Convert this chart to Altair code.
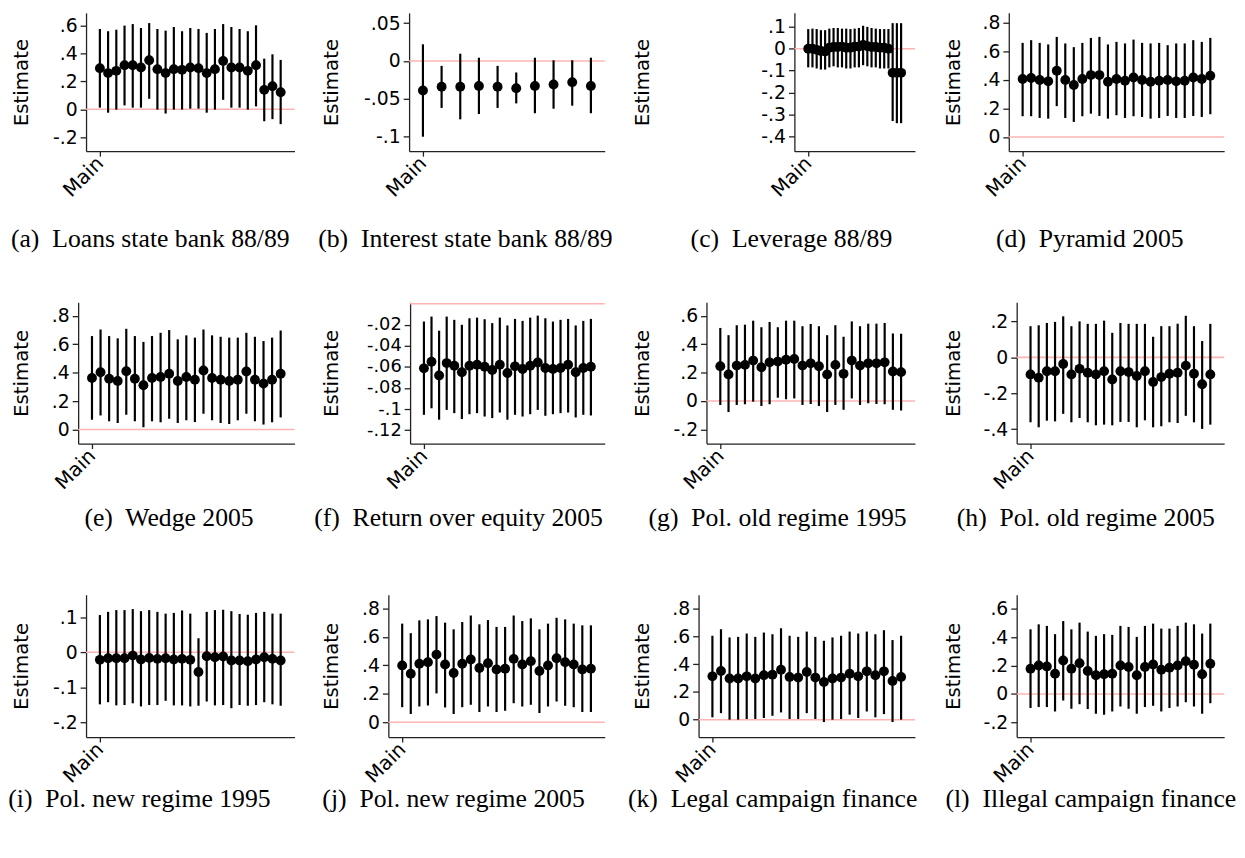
import altair as alt
import pandas as pd

# ---------------- data ----------------
NB = "\u00a0 "
captions = ["(a)" + NB + "Loans state bank 88/89", "(b)" + NB + "Interest state bank 88/89", "(c)" + NB + "Leverage 88/89",
            "(d)" + NB + "Pyramid 2005", "(e)" + NB + "Wedge 2005", "(f)" + NB + "Return over equity 2005",
            "(g)" + NB + "Pol. old regime 1995", "(h)" + NB + "Pol. old regime 2005", "(i)" + NB + "Pol. new regime 1995",
            "(j)" + NB + "Pol. new regime 2005", "(k)" + NB + "Legal campaign finance", "(l)" + NB + "Illegal campaign finance"]

a_est = [.294, .259, .275, .315, .315, .299, .351, .287, .259, .287, .282, .299, .294, .259, .287, .346, .299, .299, .275, .315, .139, .165, .122]
a_lo = [.012, -.024, -.002, .028, .012, .012, .075, -.002, -.03, -.002, -.002, .005, .005, -.024, -.002, .068, .012, .012, -.002, .021, -.085, -.07, -.106]
a_hi = [.574, .558, .569, .598, .609, .581, .616, .574, .562, .588, .558, .581, .574, .546, .574, .609, .588, .574, .558, .6, .362, .393, .353]

b_est = [-.039, -.034, -.034, -.033, -.034, -.036, -.033, -.031, -.028, -.033]
b_lo = [-.1, -.062, -.077, -.070, -.062, -.056, -.069, -.063, -.059, -.069]
b_hi = [.022, -.0065, .0096, .0043, -.0065, -.0152, .0043, .0009, .0009, .0043]

c_est = [0, 0, -.005, -.01, -.012, .005, .008, .008, .01, .005, .005, .01, .01, .018, .012, .008, .008, .005, .005, 0, -.11, -.11, -.11]
c_lo = [-.085, -.085, -.09, -.095, -.095, -.085, -.08, -.085, -.085, -.09, -.09, -.085, -.085, -.075, -.08, -.085, -.085, -.09, -.09, -.09, -.33, -.34, -.34]
c_hi = [.09, .092, .09, .085, .085, .092, .095, .095, .092, .092, .09, .092, .095, .105, .1, .095, .092, .09, .09, .09, .117, .117, .117]

d_est = [.407, .414, .4, .391, .465, .4, .365, .407, .435, .435, .388, .407, .395, .418, .4, .388, .395, .4, .391, .395, .418, .407, .43]
d_lo = [.146, .146, .134, .129, .217, .134, .106, .146, .164, .148, .129, .153, .134, .146, .141, .129, .134, .148, .134, .134, .148, .141, .16]
d_hi = [.661, .68, .661, .65, .703, .657, .631, .661, .696, .703, .65, .668, .657, .684, .661, .657, .661, .645, .657, .657, .68, .668, .696]

e_est = [.362, .403, .357, .341, .41, .357, .311, .362, .369, .392, .341, .369, .35, .415, .362, .35, .341, .35, .408, .35, .323, .35, .392]
e_lo = [.069, .099, .058, .046, .104, .058, .016, .058, .051, .076, .046, .065, .053, .111, .065, .046, .039, .065, .111, .058, .035, .051, .085]
e_hi = [.657, .703, .657, .641, .708, .657, .616, .657, .68, .699, .634, .662, .646, .703, .662, .652, .646, .646, .68, .652, .622, .646, .696]

f_est = [-.0613, -.0551, -.0681, -.0563, -.0588, -.065, -.0588, -.0579, -.0598, -.0629, -.0579, -.0657, -.0594, -.0619, -.0588, -.0557, -.061, -.0619, -.061, -.0579, -.065, -.061, -.0598]
f_lo = [-.1054, -.0992, -.110, -.1007, -.1038, -.1094, -.1048, -.1038, -.107, -.1085, -.1032, -.110, -.1054, -.107, -.1048, -.1007, -.1063, -.1048, -.1038, -.1032, -.1079, -.1054, -.106]
f_hi = [-.0169, -.0122, -.0256, -.0122, -.0153, -.02, -.0138, -.0132, -.0147, -.0184, -.0132, -.0206, -.0144, -.0163, -.0132, -.0113, -.0138, -.0169, -.0153, -.0144, -.0206, -.0163, -.0144]

g_est = [.244, .187, .249, .254, .284, .237, .272, .277, .29, .295, .249, .265, .244, .187, .254, .191, .284, .249, .265, .265, .272, .207, .203]
g_lo = [-.028, -.078, -.028, -.023, -.005, -.035, -.023, .023, .012, .018, -.028, -.021, -.035, -.078, -.028, -.062, .018, -.028, -.016, -.021, -.023, -.062, -.067]
g_hi = [.514, .463, .533, .537, .565, .519, .556, .519, .565, .565, .526, .542, .526, .463, .533, .452, .56, .526, .544, .544, .549, .475, .473]

h_est = [-.095, -.113, -.077, -.077, -.037, -.095, -.064, -.086, -.095, -.077, -.123, -.077, -.082, -.104, -.077, -.137, -.11, -.091, -.086, -.046, -.091, -.15, -.095]
h_lo = [-.362, -.39, -.353, -.357, -.315, -.362, -.338, -.362, -.379, -.375, -.379, -.36, -.36, -.39, -.351, -.39, -.384, -.362, -.366, -.326, -.362, -.399, -.375]
h_hi = [.174, .179, .192, .198, .229, .174, .201, .187, .187, .205, .137, .192, .187, .187, .187, .115, .174, .174, .188, .232, .174, .091, .187]

i_est = [-.0215, -.0168, -.0168, -.0168, -.0093, -.0206, -.0159, -.0187, -.0168, -.0206, -.0187, -.0215, -.0561, -.0112, -.014, -.0121, -.0234, -.0234, -.0252, -.0206, -.014, -.0187, -.0234]
i_lo = [-.148, -.142, -.151, -.15, -.145, -.154, -.15, -.15, -.138, -.151, -.151, -.154, -.152, -.14, -.151, -.15, -.159, -.15, -.152, -.15, -.142, -.148, -.152]
i_hi = [.106, .115, .12, .12, .123, .117, .12, .115, .11, .112, .119, .11, .04, .115, .12, .121, .117, .109, .107, .112, .115, .11, .11]

j_est = [.4, .342, .412, .423, .476, .407, .347, .412, .442, .382, .416, .372, .377, .446, .407, .43, .361, .4, .451, .423, .407, .372, .377]
j_lo = [.106, .058, .111, .118, .203, .104, .058, .106, .123, .072, .111, .072, .081, .134, .111, .123, .065, .111, .146, .116, .106, .072, .072]
j_hi = [.694, .627, .717, .724, .747, .701, .654, .705, .751, .689, .719, .671, .671, .751, .712, .731, .654, .694, .735, .724, .694, .682, .682]

k_est = [.312, .35, .296, .296, .312, .296, .32, .324, .36, .308, .303, .343, .303, .272, .296, .303, .331, .312, .348, .32, .348, .279, .308]
k_lo = [.017, .047, 0, 0, .005, .005, .012, .028, .052, .005, .005, .047, .005, -.017, 0, .005, .036, .012, .059, .017, .04, -.017, 0]
k_hi = [.604, .651, .592, .596, .62, .596, .627, .615, .658, .604, .596, .634, .596, .568, .592, .604, .634, .62, .634, .615, .644, .573, .604]

l_est = [.178, .201, .194, .143, .236, .178, .217, .162, .132, .139, .143, .201, .19, .132, .19, .208, .171, .185, .201, .231, .206, .139, .213]
l_lo = [-.099, -.092, -.092, -.123, -.046, -.104, -.072, -.106, -.139, -.146, -.123, -.088, -.104, -.139, -.092, -.083, -.123, -.099, -.088, -.058, -.088, -.139, -.065]
l_hi = [.455, .49, .479, .421, .513, .455, .502, .439, .409, .421, .416, .479, .472, .402, .479, .495, .46, .46, .479, .502, .49, .425, .495]

estimates = [a_est, b_est, c_est, d_est, e_est, f_est, g_est, h_est, i_est, j_est, k_est, l_est]
lowers = [a_lo, b_lo, c_lo, d_lo, e_lo, f_lo, g_lo, h_lo, i_lo, j_lo, k_lo, l_lo]
uppers = [a_hi, b_hi, c_hi, d_hi, e_hi, f_hi, g_hi, h_hi, i_hi, j_hi, k_hi, l_hi]

tick_values = [
    [-.2, 0, .2, .4, .6], [-.1, -.05, 0, .05], [-.4, -.3, -.2, -.1, 0, .1], [0, .2, .4, .6, .8],
    [0, .2, .4, .6, .8], [-.12, -.1, -.08, -.06, -.04, -.02], [-.2, 0, .2, .4, .6], [-.4, -.2, 0, .2],
    [-.2, -.1, 0, .1], [0, .2, .4, .6, .8], [0, .2, .4, .6, .8], [-.2, 0, .2, .4, .6],
]
y_domains = [
    [-0.299, 0.689], [-0.1191, 0.0635], [-0.468, 0.164], [-0.0994, 0.8716],
    [-0.099, 0.894], [-0.1327, 0.0013], [-0.300, 0.694], [-0.481, 0.307],
    [-0.241, 0.1636], [-0.104, 0.897], [-0.125, 0.899], [-0.303, 0.698],
]

# ---------------- layout (pixels) ----------------
plot_left = [[78, 91, 167, 70], [70, 92, 78, 78], [78, 70, 70, 78]]
plot_right = [289, 289, 289, 288]
title_x = [[-65, -78, -154, -56], [-57, -79, -65, -64], [-65, -57, -57, -64]]
cell_w = [314, 314, 314, 300]
row_h = [140, 143, 144]
caption_offset = [26, 13, 0]
caption_dx = [[-14, -9, 7, 2], [5, -16, -7, -2], [-25, -21, -12, 3]]
label_size = [19, 19, 19, 19, 19, 18, 19, 19, 19, 19, 19, 19]

SANS = "DejaVu Sans"
SERIF = "Liberation Serif"
label_expr = r"replace(toString(datum.value), regexp('^(-?)0\\.'), '$1.')"


def panel(k, r, c):
    est, lo, hi = estimates[k], lowers[k], uppers[k]
    n = len(est)
    left, right, h = plot_left[r][c], plot_right[c], row_h[r]
    pad = 14.0 * (n - 1) / (right - left - 28)
    xdom = [1 - pad, n + pad]
    df = pd.DataFrame({"x": list(range(1, n + 1)), "est": est, "lo": lo, "hi": hi})
    zdf = pd.DataFrame({"x0": [xdom[0]], "x1": [xdom[1]], "y0": [0.0]})

    xs = alt.Scale(domain=xdom, range=[left, right], nice=False, zero=False)
    ys = alt.Scale(domain=y_domains[k], nice=False, zero=False)
    xa = alt.Axis(values=[1], labelExpr="'Main'", labelAngle=-45, labelAlign="right", labelBaseline="middle",
                  labelFont=SANS, labelFontSize=20, labelColor="black", labelPadding=4,
                  tickSize=5, tickColor="#222", tickWidth=1.3, domainColor="#222", domainWidth=1.3,
                  grid=False, title=None)
    ya = alt.Axis(values=tick_values[k], labelExpr=label_expr, labelFont=SANS, labelFontSize=label_size[k],
                  labelColor="black", labelPadding=3, tickSize=6, tickColor="#222", tickWidth=1.3,
                  domainColor="#222", domainWidth=1.3, grid=False, offset=-left,
                  title="Estimate", titleFont=SANS, titleFontSize=20, titleFontWeight="normal",
                  titleColor="black", titleAngle=-90, titleBaseline="middle", titleAlign="center",
                  titleX=title_x[r][c], titleY=h / 2)

    zero = alt.Chart(zdf).mark_rule(color="#ffb3b3", strokeWidth=1.6).encode(
        x=alt.X("x0:Q", scale=xs, axis=xa), x2="x1:Q", y=alt.Y("y0:Q", scale=ys, axis=ya))
    ci = alt.Chart(df).mark_rule(color="black", strokeWidth=2.2).encode(
        x=alt.X("x:Q", scale=xs, axis=xa), y=alt.Y("lo:Q", scale=ys, axis=ya), y2="hi:Q")
    pts = alt.Chart(df).mark_circle(size=100, color="black", opacity=1).encode(
        x=alt.X("x:Q", scale=xs, axis=xa), y=alt.Y("est:Q", scale=ys, axis=ya))
    return alt.layer(zero, ci, pts).properties(
        width=cell_w[c], height=h,
        title=alt.TitleParams(captions[k], orient="bottom", anchor="middle", frame="group",
                              font=SERIF, fontSize=26, fontWeight="normal", color="black",
                              offset=caption_offset[r], dx=caption_dx[r][c]))


panels = [panel(r * 4 + c, r, c) for r in range(3) for c in range(4)]
chart = alt.concat(*panels, columns=4, spacing=alt.RowColnumber(row=153, column=0),
                   bounds="flush", align="each").properties(padding=0).configure_view(stroke=None)
chart.save("out.html", embed_options={"renderer": "svg", "actions": False})
